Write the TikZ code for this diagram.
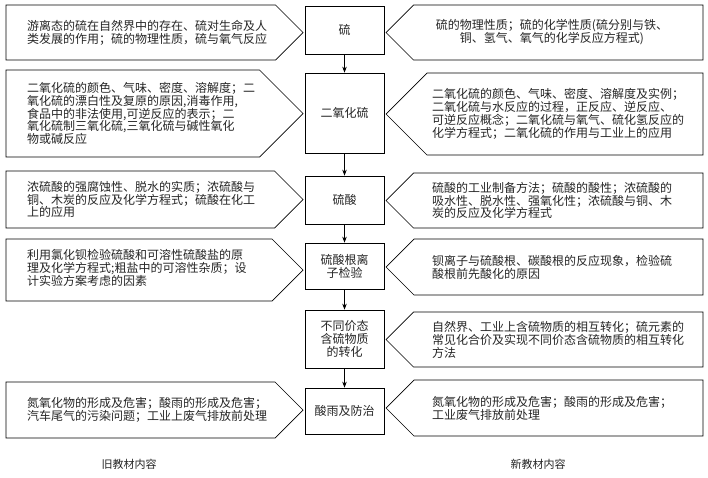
\documentclass[tikz,border=0pt]{standalone}
\usepackage{fontspec}
\setmainfont{Noto Sans CJK SC}
\usetikzlibrary{arrows.meta}
\tikzset{
  outline/.style={draw=black, line width=0.7pt},
  txt/.style={font=\fontsize{12}{12.9}\selectfont, inner sep=0pt, align=left, text=black!85},
  centerbox/.style={draw=black, line width=0.7pt, minimum width=79pt, inner sep=0pt, align=center,
     font=\fontsize{12}{12.9}\selectfont, text=black!85},
  flow/.style={draw=black, line width=0.7pt, -{Stealth[length=6pt,width=4.5pt]}},
  caption/.style={font=\fontsize{11}{12}\selectfont, inner sep=0pt, text=black!85}
}
\newcommand{\leftshape}[2]{%
  \draw[outline] (6,#1) -- ({303-(#2-#1)/2},#1) -- (303,{(#1+#2)/2}) -- ({303-(#2-#1)/2},#2) -- (6,#2) -- cycle;}
\newcommand{\rightshape}[2]{%
  \draw[outline] (703,#1) -- ({386+(#2-#1)/2},#1) -- (386,{(#1+#2)/2}) -- ({386+(#2-#1)/2},#2) -- (703,#2) -- cycle;}
\begin{document}
\begin{tikzpicture}[x=1pt,y=-1pt]
\useasboundingbox[fill=white] (0,0) rectangle (708,477);

% centre column
\node[centerbox, minimum height=48pt] (c1) at (344.5,30) {硫};
\node[centerbox, minimum height=80pt] (c2) at (344.5,113) {二氧化硫};
\node[centerbox, minimum height=48pt] (c3) at (344.5,200) {硫酸};
\node[centerbox, minimum height=46pt] (c4) at (344.5,266) {硫酸根离\\子检验};
\node[centerbox, minimum height=58pt] (c5) at (344.5,339) {不同价态\\含硫物质\\的转化};
\node[centerbox, minimum height=46pt] (c6) at (344.5,411) {酸雨及防治};

\draw[flow] (c1) -- (c2);
\draw[flow] (c2) -- (c3);
\draw[flow] (c3) -- (c4);
\draw[flow] (c4) -- (c5);
\draw[flow] (c5) -- (c6);

% left shapes (old textbook)
\leftshape{5}{60}
\leftshape{70}{157}
\leftshape{171}{228}
\leftshape{239}{301}
\leftshape{382}{438}

\node[txt, anchor=west] (l1) at (27,32.5) {游离态的硫在自然界中的存在、硫对生命及人\\类发展的作用；硫的物理性质，硫与氧气反应};
\node[txt, anchor=west] (l2) at (27,113.5) {二氧化硫的颜色、气味、密度、溶解度；二\\氧化硫的漂白性及复原的原因,消毒作用,\\食品中的非法使用,可逆反应的表示；二\\氧化硫制三氧化硫,三氧化硫与碱性氧化\\物或碱反应};
\node[txt, anchor=west] (l3) at (27,199.5) {浓硫酸的强腐蚀性、脱水的实质；浓硫酸与\\铜、木炭的反应及化学方程式；硫酸在化工\\上的应用};
\node[txt, anchor=west] (l4) at (27,268) {利用氯化钡检验硫酸和可溶性硫酸盐的原\\理及化学方程式;粗盐中的可溶性杂质；设\\计实验方案考虑的因素};
\node[txt, anchor=west] (l5) at (27,410) {氮氧化物的形成及危害；酸雨的形成及危害；\\汽车尾气的污染问题；工业上废气排放前处理};

% right shapes (new textbook)
\rightshape{5}{60}
\rightshape{73}{155}
\rightshape{173}{228}
\rightshape{239}{295}
\rightshape{312}{367}
\rightshape{380}{436}

\node[txt, align=center] (r1) at (552,32.5) {硫的物理性质；硫的化学性质(硫分别与铁、\\铜、氢气、氧气的化学反应方程式)};
\node[txt, anchor=west] (r2) at (432,114) {二氧化硫的颜色、气味、密度、溶解度及实例；\\二氧化硫与水反应的过程，正反应、逆反应、\\可逆反应概念；二氧化硫与氧气、硫化氢反应的\\化学方程式；二氧化硫的作用与工业上的应用};
\node[txt, anchor=west] (r3) at (432,200.5) {硫酸的工业制备方法；硫酸的酸性；浓硫酸的\\吸水性、脱水性、强氧化性；浓硫酸与铜、木\\炭的反应及化学方程式};
\node[txt, anchor=west] (r4) at (432,267) {钡离子与硫酸根、碳酸根的反应现象，检验硫\\酸根前先酸化的原因};
\node[txt, anchor=west] (r5) at (432,339.5) {自然界、工业上含硫物质的相互转化；硫元素的\\常见化合价及实现不同价态含硫物质的相互转化\\方法};
\node[txt, anchor=west] (r6) at (432,408) {氮氧化物的形成及危害；酸雨的形成及危害；\\工业废气排放前处理};

% captions
\node[caption] (oldcap) at (129,464) {旧教材内容};
\node[caption] (newcap) at (538,464) {新教材内容};
\end{tikzpicture}
\end{document}
